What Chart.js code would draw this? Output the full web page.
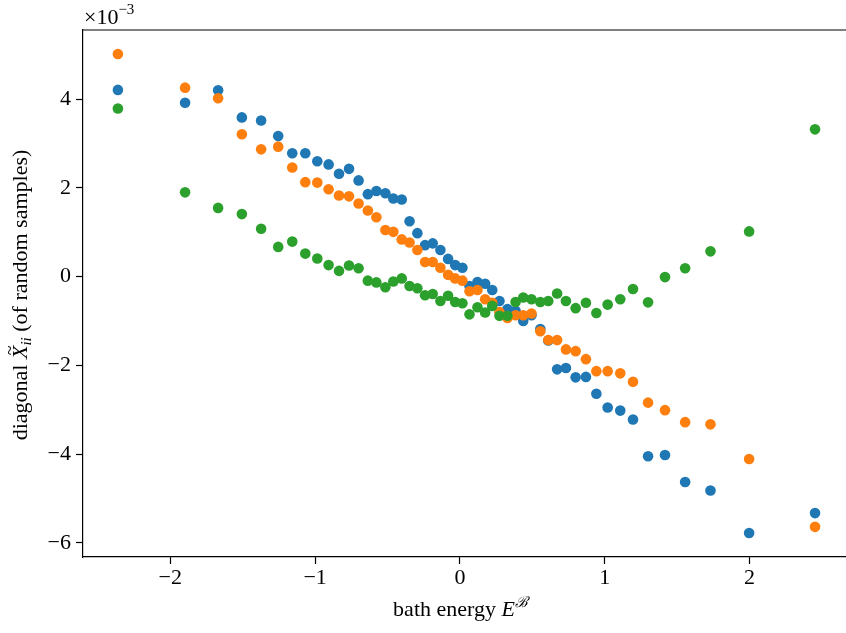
<!DOCTYPE html>
<html lang="en">
<head>
    <meta charset="UTF-8">
    <title>diagonal X vs bath energy</title>
    <script src="https://cdn.jsdelivr.net/npm/chart.js"></script>
    <style>
        body { margin: 0; background: #fff; }
        #wrap { width: 846px; height: 633px; overflow: hidden; }
    </style>
</head>
<body>
    <div id="wrap">
        <canvas id="scatterChart" width="870" height="633"></canvas>
    </div>

    <script>
        // bath energies (shared x of every series)
        const energy = [
            -2.362, -1.898, -1.670, -1.506, -1.373, -1.255, -1.158, -1.068, -0.985, -0.907,
            -0.835, -0.766, -0.700, -0.636, -0.577, -0.515, -0.460, -0.402, -0.348, -0.294,
            -0.241, -0.188, -0.135, -0.082, -0.033, 0.017, 0.066, 0.121, 0.174, 0.223,
            0.273, 0.328, 0.384, 0.437, 0.494, 0.555, 0.610, 0.671, 0.732, 0.799,
            0.870, 0.942, 1.020, 1.107, 1.195, 1.299, 1.416, 1.555, 1.730, 1.997,
            2.452
        ];

        // values in units of 1e-3
        const blueVals = [
            4.21, 3.92, 4.20, 3.59, 3.52, 3.17, 2.78, 2.78, 2.60, 2.53,
            2.32, 2.43, 2.17, 1.86, 1.93, 1.88, 1.76, 1.74, 1.25, 0.98,
            0.71, 0.75, 0.60, 0.40, 0.26, 0.20, -0.21, -0.12, -0.16, -0.30,
            -0.55, -0.73, -0.77, -1.00, -0.87, -1.18, -1.44, -2.09, -2.06, -2.27,
            -2.26, -2.64, -2.95, -3.02, -3.22, -4.05, -4.02, -4.63, -4.82, -5.78,
            -5.33
        ];
        const orangeVals = [
            5.02, 4.26, 4.02, 3.21, 2.87, 2.93, 2.46, 2.13, 2.12, 1.97,
            1.83, 1.81, 1.65, 1.49, 1.34, 1.05, 1.01, 0.84, 0.77, 0.60,
            0.33, 0.33, 0.20, 0.04, -0.04, -0.09, -0.33, -0.30, -0.51, -0.59,
            -0.80, -0.93, -0.87, -0.87, -0.83, -1.23, -1.43, -1.43, -1.64, -1.68,
            -1.86, -2.13, -2.13, -2.18, -2.37, -2.84, -3.01, -3.28, -3.33, -4.11,
            -5.64
        ];
        const greenVals = [
            3.79, 1.90, 1.55, 1.41, 1.08, 0.67, 0.79, 0.52, 0.41, 0.26,
            0.13, 0.25, 0.19, -0.09, -0.13, -0.24, -0.11, -0.04, -0.21, -0.26,
            -0.42, -0.39, -0.55, -0.43, -0.57, -0.60, -0.85, -0.69, -0.81, -0.66,
            -0.88, -0.88, -0.57, -0.47, -0.51, -0.57, -0.55, -0.38, -0.55, -0.71,
            -0.59, -0.82, -0.63, -0.51, -0.28, -0.58, -0.01, 0.19, 0.57, 1.02,
            3.32
        ];

        const xTicks = [-2, -1, 0, 1, 2];
        const yTicks = [-6, -4, -2, 0, 2, 4];

        const SERIF = "'Liberation Serif', 'DejaVu Serif', serif";
        const TICK_PX = 22;

        const toPoints = vals => vals.map((v, i) => ({ x: energy[i], y: v }));
        const fmt = v => (v < 0 ? "\u2212" + Math.abs(v) : String(v));

        // draw a run of text pieces starting at x, return end x
        function drawRun(ctx, parts, x, y) {
            parts.forEach(p => {
                ctx.font = p.font;
                ctx.fillText(p.text, x, y + (p.dy || 0));
                if (p.tilde) {
                    const w = ctx.measureText(p.text).width;
                    ctx.font = p.tilde;
                    const tw = ctx.measureText("~").width;
                    ctx.fillText("~", x + w / 2 - tw / 2 + 2, y - 11);
                    ctx.font = p.font;
                }
                x += ctx.measureText(p.text).width;
            });
            return x;
        }
        function runWidth(ctx, parts) {
            let w = 0;
            parts.forEach(p => { ctx.font = p.font; w += ctx.measureText(p.text).width; });
            return w;
        }

        const labelsPlugin = {
            id: "labels",
            afterDraw(chart) {
                const ctx = chart.ctx;
                const area = chart.chartArea;
                ctx.save();
                // top spine
                ctx.strokeStyle = "#000";
                ctx.lineWidth = 1.2;
                ctx.beginPath();
                ctx.moveTo(area.left, area.top);
                ctx.lineTo(area.right, area.top);
                ctx.stroke();

                ctx.fillStyle = "#000";
                ctx.textBaseline = "alphabetic";
                ctx.textAlign = "left";

                // x label
                const xParts = [
                    { text: "bath energy ", font: `${TICK_PX}px ${SERIF}` },
                    { text: "E", font: `italic ${TICK_PX}px ${SERIF}` },
                    { text: "\u212C", font: `italic 15px ${SERIF}`, dy: -9 }
                ];
                const xw = runWidth(ctx, xParts);
                drawRun(ctx, xParts, 460.5 - xw / 2, 616);

                // y label, rotated
                const yParts = [
                    { text: "diagonal ", font: `${TICK_PX}px ${SERIF}` },
                    { text: "X", font: `italic ${TICK_PX}px ${SERIF}`, tilde: `18px ${SERIF}` },
                    { text: "ii", font: `italic 15px ${SERIF}`, dy: 4 },
                    { text: " (of random samples)", font: `${TICK_PX}px ${SERIF}` }
                ];
                const yw = runWidth(ctx, yParts);
                ctx.translate(27, 295);
                ctx.rotate(-Math.PI / 2);
                drawRun(ctx, yParts, -yw / 2, 0);
                ctx.setTransform(1, 0, 0, 1, 0, 0);

                // offset text
                drawRun(ctx, [
                    { text: "\u00D710", font: `${TICK_PX}px ${SERIF}` },
                    { text: "\u22123", font: `15px ${SERIF}`, dy: -10 }
                ], 84, 24);
                ctx.restore();
            }
        };

        const tickFont = { family: SERIF, size: TICK_PX };

        new Chart(document.getElementById("scatterChart").getContext("2d"), {
            type: "scatter",
            data: {
                datasets: [
                    { label: "blue", data: toPoints(blueVals), backgroundColor: "#1f77b4", order: 3 },
                    { label: "orange", data: toPoints(orangeVals), backgroundColor: "#ff7f0e", order: 2 },
                    { label: "green", data: toPoints(greenVals), backgroundColor: "#2ca02c", order: 1 }
                ]
            },
            options: {
                responsive: false,
                animation: false,
                devicePixelRatio: 1,
                layout: { padding: { top: 30, right: 0, left: 0, bottom: 0 } },
                elements: { point: { radius: 5.3, borderWidth: 0, hoverRadius: 5.3 } },
                plugins: { legend: { display: false }, tooltip: { enabled: false } },
                scales: {
                    x: {
                        type: "linear",
                        min: -2.603,
                        max: 2.795,
                        afterBuildTicks: s => { s.ticks = xTicks.map(v => ({ value: v })); },
                        afterFit: s => { s.height = 76; },
                        ticks: { font: tickFont, color: "#000", padding: 1, callback: fmt, maxRotation: 0 },
                        grid: { drawOnChartArea: false, drawTicks: true, tickLength: 7, tickWidth: 1.2, color: "#000" },
                        border: { display: true, color: "#000", width: 1.2 }
                    },
                    y: {
                        min: -6.32,
                        max: 5.56,
                        afterBuildTicks: s => { s.ticks = yTicks.map(v => ({ value: v })); },
                        afterFit: s => { s.width = 83; },
                        ticks: { font: tickFont, color: "#000", padding: 5, callback: fmt },
                        grid: { drawOnChartArea: false, drawTicks: true, tickLength: 7, tickWidth: 1.2, color: "#000" },
                        border: { display: true, color: "#000", width: 1.2 }
                    }
                }
            },
            plugins: [labelsPlugin]
        });
    </script>
</body>
</html>
